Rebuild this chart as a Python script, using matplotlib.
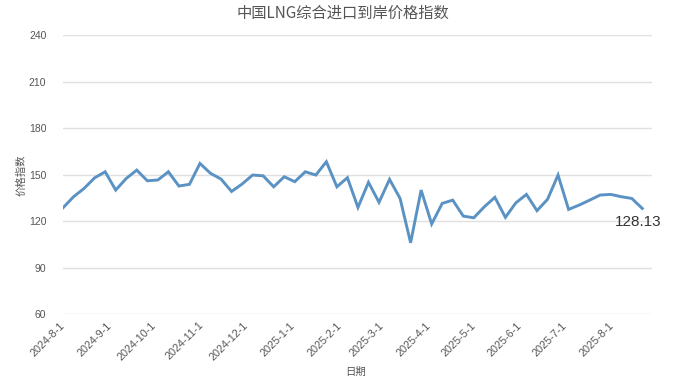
import matplotlib
matplotlib.use("Agg")
import matplotlib.pyplot as plt
import numpy as np
import pandas as pd

plt.rcParams['font.family'] = ['Liberation Sans', 'Noto Sans CJK SC', 'DejaVu Sans']

# weekly index values, 2024-08-01 .. 2025-08-21
dates = pd.date_range('2024-08-01', periods=56, freq='7D')
values = [128.6, 135.7, 141.1, 147.9, 151.8, 140.0, 147.5, 152.9, 146.0, 146.5,
          151.8, 142.6, 143.7, 157.2, 150.8, 147.1, 139.1, 143.9, 149.7, 149.2,
          142.1, 148.6, 145.4, 151.8, 149.7, 158.3, 142.1, 148.0, 128.8, 145.0,
          132.1, 146.9, 134.6, 106.0, 140.0, 118.1, 131.4, 133.5, 123.2, 122.1,
          129.2, 135.3, 122.4, 131.8, 137.2, 126.7, 134.0, 149.7, 127.5, 130.3,
          133.5, 136.8, 137.2, 135.7, 134.6, 128.13]
tick_dates = pd.date_range('2024-08-01', '2025-08-01', freq='MS')
tick_labels = [f'{d.year}-{d.month}-1' for d in tick_dates]
yticks = [60, 90, 120, 150, 180, 210, 240]

fig = plt.figure(figsize=(6.78, 3.82), dpi=100)
ax = fig.add_axes([0.093, 0.178, 0.869, 0.730])

ax.plot(dates, values, color='#5a92c4', lw=2.1, solid_joinstyle='miter')

ax.set_ylim(60, 240)
ax.set_yticks(yticks)
ax.set_xlim(pd.Timestamp('2024-08-01'), pd.Timestamp('2024-08-01') + pd.Timedelta(days=391.6))
ax.set_xticks(tick_dates)
ax.set_xticklabels(tick_labels, rotation=45, ha='right', va='center',
                   rotation_mode='anchor', fontsize=7.8, color='#555555')
ax.tick_params(axis='x', length=0, pad=7)
ax.tick_params(axis='y', length=0, pad=12, labelsize=7.5, labelcolor='#555555')
ax.grid(axis='y', color='#e0e0e0', lw=1)
ax.set_axisbelow(True)
for s in ax.spines.values():
    s.set_visible(False)

ax.annotate(f'{values[-1]:.2f}', xy=(dates[-1], values[-1]), xytext=(-3, -10),
            textcoords='offset points', ha='center', va='center',
            fontsize=11, color='#333333')

fig.text(0.506, 0.966, '中国LNG综合进口到岸价格指数', ha='center', va='center',
         fontsize=11, color='#555555', family=['Noto Sans CJK SC'])
fig.text(0.524, 0.026, '日期', ha='center', va='center', fontsize=7.5,
         color='#555555', family=['Noto Sans CJK SC'])
fig.text(0.032, 0.542, '价格指数', ha='center', va='center', rotation=90,
         fontsize=7.5, color='#555555', family=['Noto Sans CJK SC'])

fig.savefig('out.png', dpi=100)
